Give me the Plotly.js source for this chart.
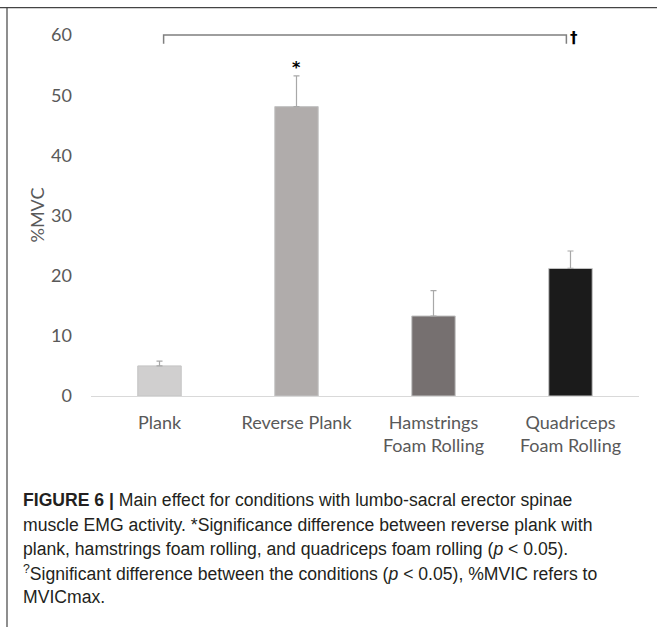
<!DOCTYPE html>
<html>
<head>
<meta charset="utf-8">
<script src="https://cdn.plot.ly/plotly-3.0.1.min.js"></script>
<style>
html,body{margin:0;padding:0;background:#fff;}
#chart{width:657px;height:627px;}
</style>
</head>
<body>
<div id="chart"></div>
<script>
const categories = ["Plank", "Reverse Plank", "Hamstrings<br>Foam Rolling", "Quadriceps<br>Foam Rolling"];
const mvcValues = [5.0, 48.1, 13.3, 21.2];
const mvcErrors = [0.8, 5.1, 4.2, 2.9];
const barColors = ["#d0cfcf", "#b0acab", "#767070", "#1b1b1b"];
const yTicks = [0, 10, 20, 30, 40, 50, 60];

const captionLines = [
  "<b>FIGURE 6 |</b> Main effect for conditions with lumbo-sacral erector spinae",
  "muscle EMG activity. *Significance difference between reverse plank with",
  "plank, hamstrings foam rolling, and quadriceps foam rolling (<i>p</i> < 0.05).",
  "<sup>?</sup>Significant difference between the conditions (<i>p</i> < 0.05), %MVIC refers to",
  "MVICmax."
];

const trace = {
  type: "bar",
  x: categories,
  y: mvcValues,
  width: 0.317,
  marker: {color: barColors, line: {color: "#c4c4c4", width: 1}},
  error_y: {type: "data", array: mvcErrors, symmetric: false, arrayminus: [0,0,0,0],
            color: "#a8a8a8", thickness: 1.2, width: 3},
  hoverinfo: "none"
};

const tickFont = {family: "Lato, 'Open Sans', sans-serif", size: 18, color: "#595959"};
const capFont = {family: "'Liberation Sans', Arial, sans-serif", size: 17.6, color: "#231f20"};

const annotations = [
  {text: "%MVC", xref: "paper", yref: "y", x: 0, y: 30, xshift: -54, textangle: -90,
   showarrow: false, xanchor: "center", yanchor: "middle", font: tickFont},
  {text: "<b>*</b>", xref: "x", yref: "y", x: 1, y: 54.6, showarrow: false,
   font: {family: "DejaVu Sans", size: 16, color: "#000"}, xanchor: "center", yanchor: "middle"},
  {text: "<b>†</b>", xref: "x", yref: "y", x: 3.025, y: 59.5, showarrow: false,
   font: {family: "DejaVu Sans", size: 15, color: "#000"}, xanchor: "center", yanchor: "middle"}
];
const lineY = [500, 524.5, 548.5, 572.5, 597];
captionLines.forEach((t, i) => {
  annotations.push({text: t, xref: "paper", yref: "paper", x: 0, y: 0,
    xshift: -70, yshift: -(lineY[i] - 395.7), xanchor: "left", yanchor: "middle",
    align: "left", showarrow: false, font: capFont});
});

const layout = {
  width: 657, height: 627,
  margin: {l: 91, r: 18, t: 23, b: 231},
  paper_bgcolor: "#fff", plot_bgcolor: "#fff",
  showlegend: false,
  bargap: 0.683,
  xaxis: {type: "category", showgrid: false, zeroline: false, showline: true,
          linecolor: "#d9d9d9", linewidth: 1, ticks: "", tickfont: tickFont,
          ticklabelstandoff: 10, fixedrange: true},
  yaxis: {range: [0, 62], tickvals: yTicks, showgrid: false, zeroline: false,
          showline: false, ticks: "", tickfont: tickFont, ticklabelstandoff: 18,
          fixedrange: true},
  shapes: [
    {type: "path", xref: "x", yref: "y", path: "M 0.03 58.55 L 0.03 60 L 2.97 60 L 2.97 58.55",
     line: {color: "#7f7f7f", width: 1.5}},
    {type: "line", xref: "paper", yref: "paper", x0: -91/548, x1: 1 + 18/548,
     y0: (395.7 - 8) / 372.4, y1: (395.7 - 8) / 372.4, line: {color: "#444", width: 1.2}},
    {type: "line", xref: "paper", yref: "paper", x0: -84/548, x1: -84/548,
     y0: (395.7 - 8) / 372.4, y1: -(627 - 395.7) / 372.4, line: {color: "#444", width: 1.2}}
  ],
  annotations: annotations
};

Plotly.newPlot("chart", [trace], layout, {displayModeBar: false, staticPlot: true});
</script>
</body>
</html>
